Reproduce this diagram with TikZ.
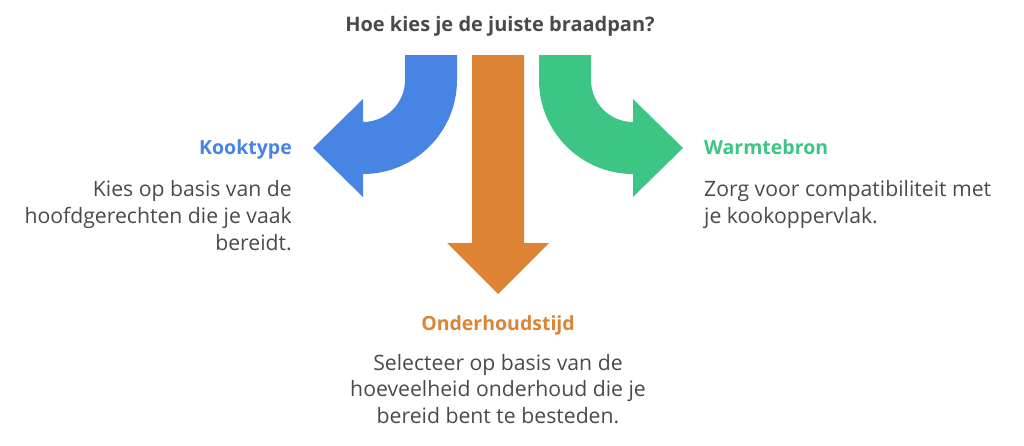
\documentclass[tikz,border=0pt]{standalone}
\usepackage{fontspec}
\setmainfont{Open Sans}
\usetikzlibrary{positioning}

\definecolor{kookblue}{HTML}{4884E4}
\definecolor{onderhoudorange}{HTML}{DC8434}
\definecolor{warmgreen}{HTML}{3DC584}
\definecolor{tekstgrey}{HTML}{4A4A4A}

\begin{document}
\begin{tikzpicture}[x=1pt,y=1pt,
  kop/.style={font=\bfseries\fontsize{19.5}{23}\selectfont, inner sep=0},
  tekst/.style={font=\fontsize{21.2}{26.7}\selectfont, text=tekstgrey, inner sep=0}]

% Canvas
\useasboundingbox (0,0) rectangle (1024,-445);

% Arrows
\fill[kookblue] (405,-55) -- (405,-80) arc[start angle=0,end angle=-90,radius=42]
  -- (363,-99) -- (313,-148) -- (363,-197) -- (363,-174)
  arc[start angle=-90,end angle=0,radius=94] -- (457,-55) -- cycle;
\fill[onderhoudorange] (472,-55) -- (472,-243) -- (447,-243) -- (498,-294)
  -- (549,-243) -- (524,-243) -- (524,-55) -- cycle;
\fill[warmgreen] (591,-55) -- (591,-80) arc[start angle=180,end angle=270,radius=42]
  -- (633,-99) -- (683,-148) -- (633,-197) -- (633,-174)
  arc[start angle=270,end angle=180,radius=94] -- (539,-55) -- cycle;

% Title
\node[kop, font=\bfseries\fontsize{20}{24}\selectfont, text=tekstgrey, anchor=base]
  (titel) at (500,-31.7) {Hoe kies je de juiste braadpan?};

% Headings
\node[kop, text=kookblue, anchor=base east] (kooktype) at (292,-154) {Kooktype};
\node[kop, text=warmgreen, anchor=base west] (warmtebron) at (704,-154) {Warmtebron};
\node[kop, text=onderhoudorange, anchor=base] (onderhoud) at (498,-330) {Onderhoudstijd};

% Descriptions (base = last line)
\node[tekst, align=right, anchor=base east] (kooktekst) at (292,-250.1)
  {Kies op basis van de\\hoofdgerechten die je vaak\\bereidt.};
\node[tekst, align=left, anchor=base west] (warmtekst) at (704,-223.4)
  {Zorg voor compatibiliteit met\\je kookoppervlak.};
\node[tekst, align=center, anchor=base] (onderhoudtekst) at (498,-423.4)
  {Selecteer op basis van de\\hoeveelheid onderhoud die je\\bereid bent te besteden.};

\end{tikzpicture}
\end{document}
